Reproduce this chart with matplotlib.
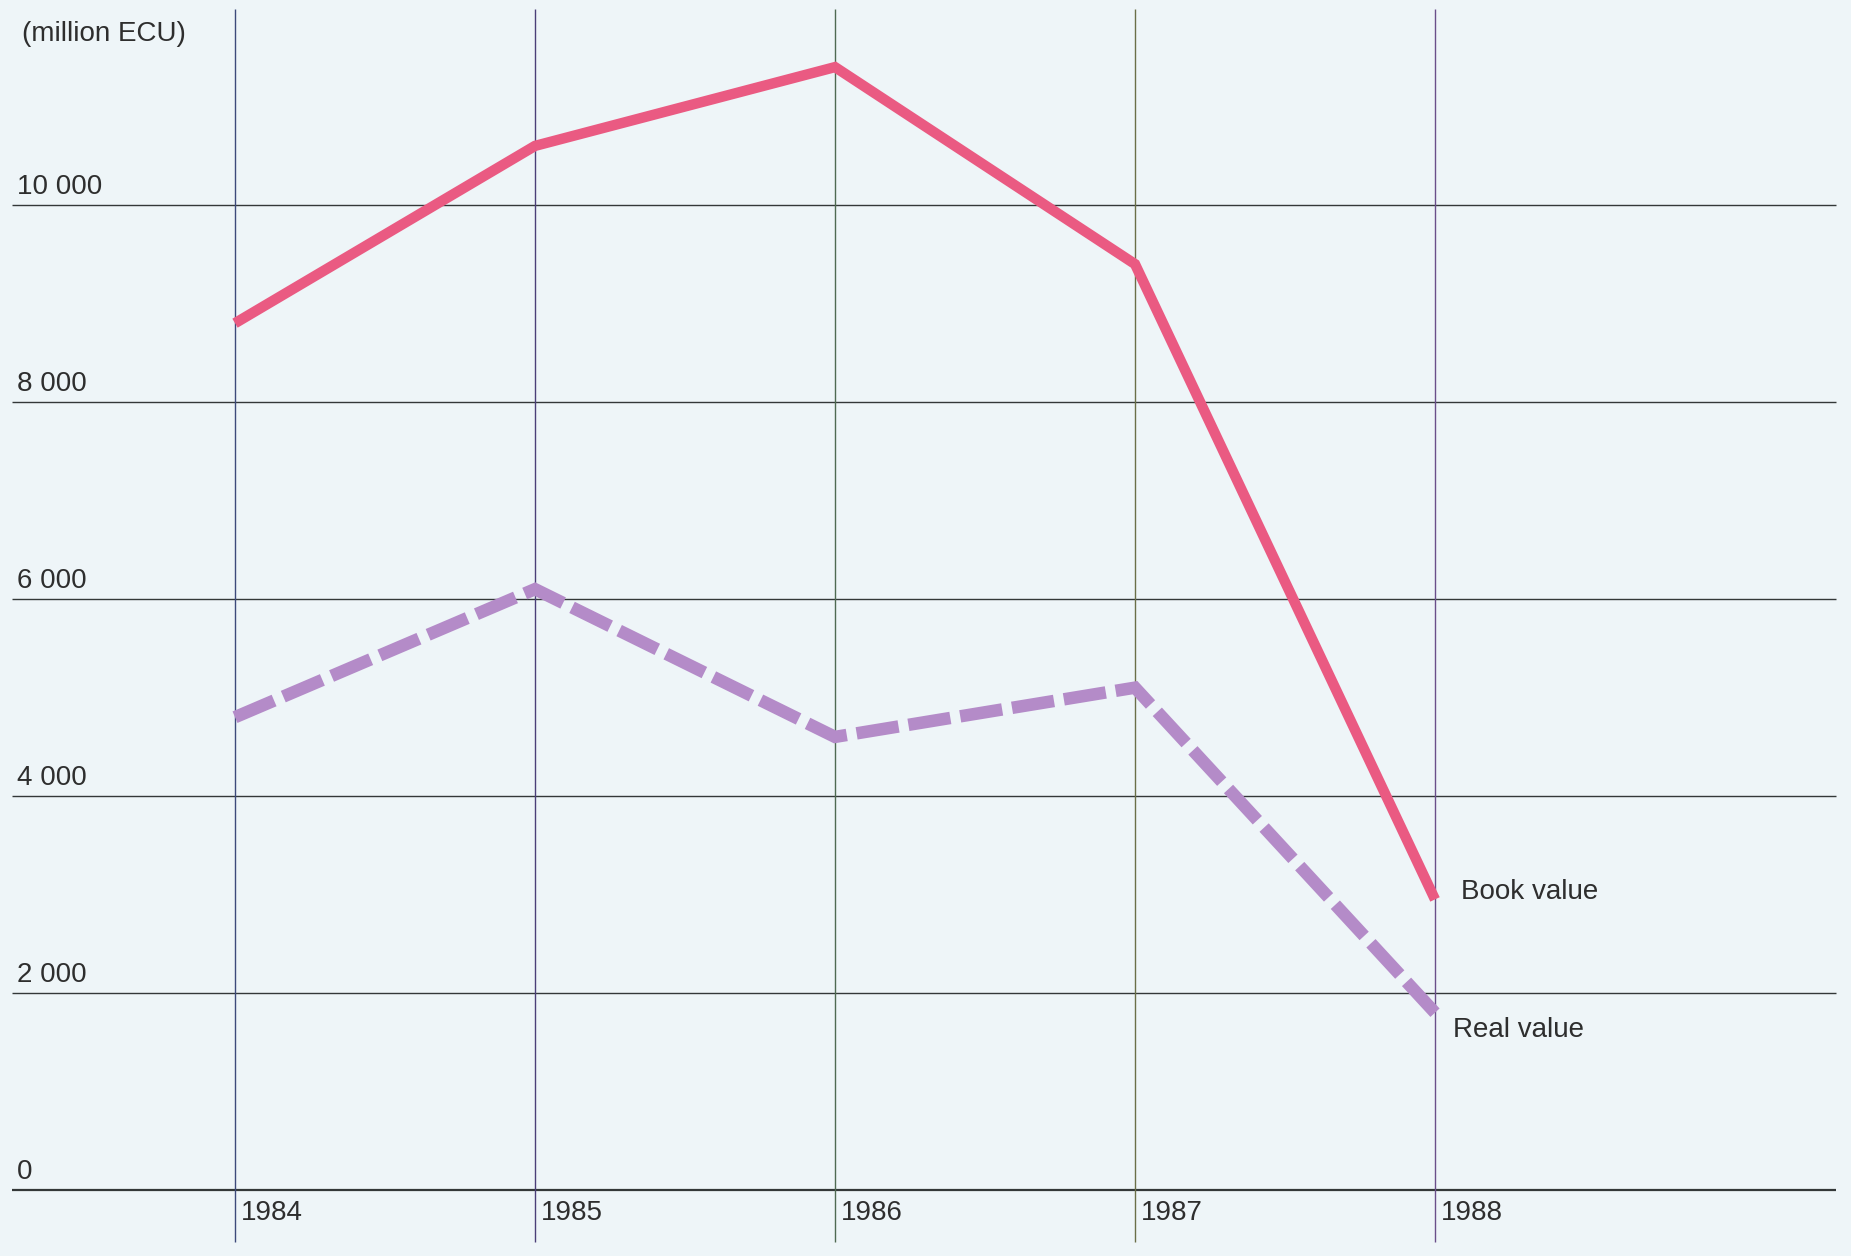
import matplotlib.pyplot as plt
from matplotlib.transforms import offset_copy

years = [1984, 1985, 1986, 1987, 1988]
book_value = [8800, 10600, 11400, 9400, 2950]
real_value = [4800, 6100, 4600, 5100, 1800]
y_ticks = [0, 2000, 4000, 6000, 8000, 10000]
y_labels = ['0', '2 000', '4 000', '6 000', '8 000', '10 000']

plt.rcParams['font.family'] = ['Liberation Sans', 'DejaVu Sans']

fig = plt.figure(figsize=[18.51, 12.56], dpi=100)
fig.patch.set_facecolor('#eef5f8')
ax = fig.add_axes([0, 0, 1, 1])
ax.set_facecolor('#eef5f8')

# skala: 300 px na rok, 0.0985 px na jednostkę
x0 = 1984 - 235 / 300
x1 = 1984 + (1851 - 235) / 300
y1 = 1190 / 0.0985
y0 = y1 - 1256 / 0.0985
ax.set_xlim(x0, x1)
ax.set_ylim(y0, y1)
ax.axis('off')

# linie poziome
for v in y_ticks:
    lw = 1.6 if v == 0 else 1.0
    ax.hlines(v, x0 + 12 / 300, x0 + 1836 / 300, color='#333838', lw=lw, zorder=1)

# linie pionowe
v_colors = ['#3d4a7a', '#4b3f78', '#4f6a52', '#6a6f48', '#6a4f8a']
for yr, c in zip(years, v_colors):
    ax.vlines(yr, y1 - 1242 / 0.0985, y1 - 9 / 0.0985, color=c, lw=1.0, zorder=1)

ax.plot(years, book_value, color='#ea5a82', lw=7.5, solid_joinstyle='miter',
        solid_capstyle='butt', zorder=3)
ax.plot(years, real_value, color='#b48bc8', lw=9, linestyle=(0, (3.4, 0.8)),
        dash_capstyle='butt', dash_joinstyle='miter', zorder=3)

txt = dict(color='#2e2e2e', fontsize=20)
tr_y = offset_copy(ax.transData, fig, x=0, y=5, units='dots')
for v, lab in zip(y_ticks, y_labels):
    ax.text(x0 + 17 / 300, v, lab, transform=tr_y, ha='left', va='bottom', **txt)

tr_x = offset_copy(ax.transData, fig, x=6, y=-10, units='dots')
for yr in years:
    ax.text(yr, 0, str(yr), transform=tr_x, ha='left', va='top', **txt)

ax.text(x0 + 22 / 300, y1 - 34 / 0.0985, '(million ECU)', ha='left', va='center', **txt)

tr_lab = offset_copy(ax.transData, fig, x=26, y=0, units='dots')
ax.text(years[-1], book_value[-1] + 80, 'Book value', transform=tr_lab,
        ha='left', va='center', **txt)
tr_lab2 = offset_copy(ax.transData, fig, x=18, y=0, units='dots')
ax.text(years[-1], real_value[-1] - 180, 'Real value', transform=tr_lab2,
        ha='left', va='center', **txt)

plt.savefig('out.png', dpi=100, facecolor=fig.get_facecolor())
